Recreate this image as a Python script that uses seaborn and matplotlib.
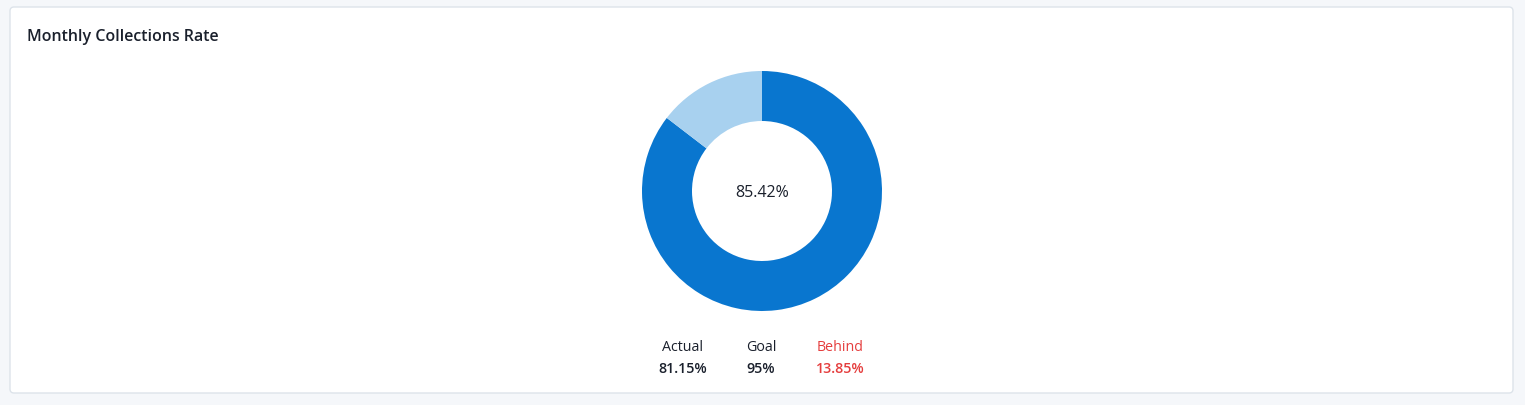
import matplotlib
matplotlib.use("Agg")
import matplotlib.pyplot as plt
from matplotlib.patches import FancyBboxPatch
import seaborn as sns

title = "Monthly Collections Rate"
segment_labels = ["Collected", "Remaining"]
segment_values = [85.42, 14.58]
center_label = "85.42%"
stat_names = ["Actual", "Goal", "Behind"]
stat_values = ["81.15%", "95%", "13.85%"]

W, H = 1525, 406
sns.set_style("white")
plt.rcParams["font.family"] = ["Open Sans", "DejaVu Sans"]

dark = "#1a202c"
red = "#e53e3e"
palette = ["#0976cf", "#a8d1ef"]

fig = plt.figure(figsize=(W / 100, H / 100), dpi=100)
fig.patch.set_facecolor("#f5f7fa")

bg = fig.add_axes([0, 0, 1, 1])
bg.set_xlim(0, W)
bg.set_ylim(H, 0)
bg.axis("off")
card = FancyBboxPatch((10, 8), 1503, 386, boxstyle="round,pad=0,rounding_size=4",
                      facecolor="white", edgecolor="#dde3ea", linewidth=1)
bg.add_patch(card)
bg.text(27, 37, title, fontsize=11.5, fontweight="semibold", color=dark, va="center", ha="left")

# donut
cx, cy, r = 762, 192, 120
ax = fig.add_axes([(cx - r) / W, (H - cy - r) / H, 2 * r / W, 2 * r / H])
ax.pie(segment_values, colors=palette, startangle=90, counterclock=False,
       wedgeprops=dict(width=50 / 120, linewidth=0), radius=1)
ax.set_xlim(-1, 1)
ax.set_ylim(-1, 1)
ax.axis("off")
ax.text(0, -0.01, center_label, fontsize=11.5, color=dark, ha="center", va="center")

xs = [683, 761, 840]
for x, name, val in zip(xs, stat_names, stat_values):
    c = red if name == "Behind" else dark
    bg.text(x, 347.5, name, fontsize=10.3, color=c, ha="center", va="center")
    bg.text(x, 369, val, fontsize=10.3, fontweight="semibold", color=c, ha="center", va="center")

fig.savefig("out.png", dpi=100, facecolor=fig.get_facecolor())
